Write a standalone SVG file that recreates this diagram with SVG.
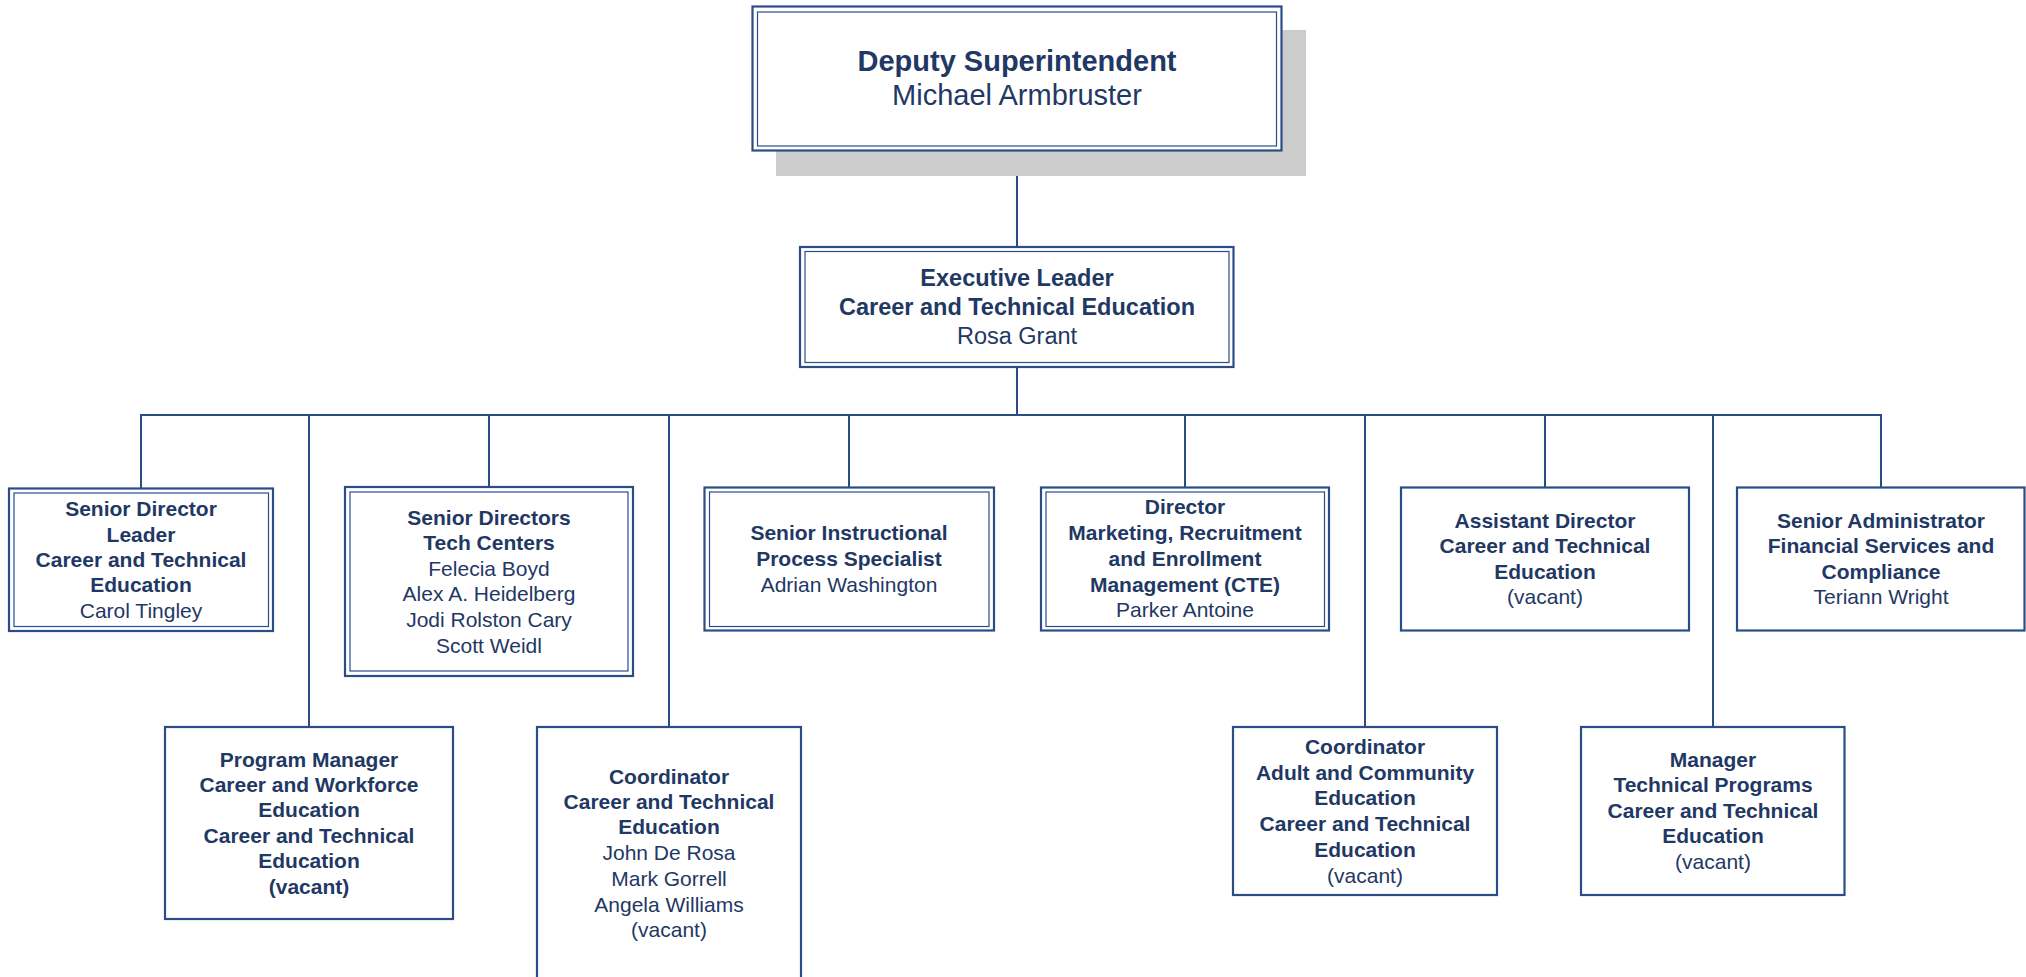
<svg xmlns="http://www.w3.org/2000/svg" width="2026" height="977" viewBox="0 0 2026 977">
<style>
.bg{fill:#ffffff}
.o{fill:#ffffff;stroke:#2b4d86;stroke-width:2.2}
.i{fill:none;stroke:#2b4d86;stroke-width:1.2}
.s{fill:#ffffff;stroke:#2b4d86;stroke-width:2.2}
.c{fill:none;stroke:#2b4d86;stroke-width:2}
text{font-family:"Liberation Sans",Arial,sans-serif;fill:#1f3864;text-anchor:middle;font-size:21px}
.b{font-weight:bold}
.t1{font-size:29px}
.t2{font-size:23.5px}
</style>
<rect class="bg" x="0" y="0" width="2026" height="977"/>
<g id="connectors">
<line class="c" x1="1017" y1="150" x2="1017" y2="247"/>
<line class="c" x1="1017" y1="367" x2="1017" y2="415"/>
<line class="c" x1="140" y1="415" x2="1882" y2="415"/>
<line class="c" x1="141" y1="414" x2="141" y2="489"/>
<line class="c" x1="309" y1="414" x2="309" y2="727"/>
<line class="c" x1="489" y1="414" x2="489" y2="487"/>
<line class="c" x1="669" y1="414" x2="669" y2="727"/>
<line class="c" x1="849" y1="414" x2="849" y2="488"/>
<line class="c" x1="1185" y1="414" x2="1185" y2="488"/>
<line class="c" x1="1365" y1="414" x2="1365" y2="727"/>
<line class="c" x1="1545" y1="414" x2="1545" y2="488"/>
<line class="c" x1="1713" y1="414" x2="1713" y2="727"/>
<line class="c" x1="1881" y1="414" x2="1881" y2="488"/>
</g>
<g id="deputy-superintendent">
<rect x="776" y="30" width="530" height="146" fill="#cccccc"/>
<rect class="o" x="752.5" y="6.5" width="529" height="144"/>
<rect class="i" x="757.5" y="12" width="519" height="134"/>
<text class="b t1" x="1017" y="71">Deputy Superintendent</text>
<text class="t1" x="1017" y="105">Michael Armbruster</text>
</g>
<g id="executive-leader">
<rect class="o" x="800" y="247" width="433.5" height="120"/>
<rect class="i" x="805" y="251.5" width="424" height="111"/>
<text class="b t2" x="1017" y="286">Executive Leader</text>
<text class="b t2" x="1017" y="315">Career and Technical Education</text>
<text class="t2" x="1017" y="343.5">Rosa Grant</text>
</g>
<g id="senior-director-leader">
<rect class="o" x="9" y="488.5" width="264" height="142.5"/>
<rect class="i" x="14" y="493" width="254.5" height="133.5"/>
<text class="b" x="141" y="516">Senior Director</text>
<text class="b" x="141" y="541.7">Leader</text>
<text class="b" x="141" y="566.7">Career and Technical</text>
<text class="b" x="141" y="592.3">Education</text>
<text x="141" y="618">Carol Tingley</text>
</g>
<g id="senior-directors-tech-centers">
<rect class="o" x="345" y="487" width="288" height="189"/>
<rect class="i" x="350" y="492" width="278" height="179"/>
<text class="b" x="489" y="525">Senior Directors</text>
<text class="b" x="489" y="550">Tech Centers</text>
<text x="489" y="575.7">Felecia Boyd</text>
<text x="489" y="601.3">Alex A. Heidelberg</text>
<text x="489" y="627">Jodi Rolston Cary</text>
<text x="489" y="652.7">Scott Weidl</text>
</g>
<g id="senior-instructional-process-specialist">
<rect class="o" x="704.5" y="487.5" width="289.5" height="143"/>
<rect class="i" x="709.5" y="492" width="279.5" height="134.5"/>
<text class="b" x="849" y="540">Senior Instructional</text>
<text class="b" x="849" y="565.7">Process Specialist</text>
<text x="849" y="591.5">Adrian Washington</text>
</g>
<g id="director-marketing">
<rect class="o" x="1041" y="487.5" width="288" height="143"/>
<rect class="i" x="1046" y="492" width="278.5" height="134.5"/>
<text class="b" x="1185" y="514.3">Director</text>
<text class="b" x="1185" y="540">Marketing, Recruitment</text>
<text class="b" x="1185" y="565.7">and Enrollment</text>
<text class="b" x="1185" y="591.5">Management (CTE)</text>
<text x="1185" y="617.3">Parker Antoine</text>
</g>
<g id="assistant-director">
<rect class="s" x="1401" y="487.5" width="288" height="143"/>
<text class="b" x="1545" y="527.7">Assistant Director</text>
<text class="b" x="1545" y="553.3">Career and Technical</text>
<text class="b" x="1545" y="579">Education</text>
<text x="1545" y="604.3">(vacant)</text>
</g>
<g id="senior-administrator">
<rect class="s" x="1737" y="487.5" width="287.5" height="143"/>
<text class="b" x="1881" y="527.7">Senior Administrator</text>
<text class="b" x="1881" y="553.3">Financial Services and</text>
<text class="b" x="1881" y="579">Compliance</text>
<text x="1881" y="604.3">Teriann Wright</text>
</g>
<g id="program-manager">
<rect class="s" x="165" y="727" width="288" height="192"/>
<text class="b" x="309" y="766.7">Program Manager</text>
<text class="b" x="309" y="791.7">Career and Workforce</text>
<text class="b" x="309" y="817.3">Education</text>
<text class="b" x="309" y="842.7">Career and Technical</text>
<text class="b" x="309" y="868.3">Education</text>
<text class="b" x="309" y="894">(vacant)</text>
</g>
<g id="coordinator-cte">
<rect class="s" x="537" y="727" width="264" height="270"/>
<text class="b" x="669" y="784">Coordinator</text>
<text class="b" x="669" y="809.3">Career and Technical</text>
<text class="b" x="669" y="834.3">Education</text>
<text x="669" y="860">John De Rosa</text>
<text x="669" y="886">Mark Gorrell</text>
<text x="669" y="911.7">Angela Williams</text>
<text x="669" y="936.7">(vacant)</text>
</g>
<g id="coordinator-adult">
<rect class="s" x="1233" y="727" width="264" height="168"/>
<text class="b" x="1365" y="754.3">Coordinator</text>
<text class="b" x="1365" y="780">Adult and Community</text>
<text class="b" x="1365" y="805">Education</text>
<text class="b" x="1365" y="831">Career and Technical</text>
<text class="b" x="1365" y="856.7">Education</text>
<text x="1365" y="882.7">(vacant)</text>
</g>
<g id="manager-technical-programs">
<rect class="s" x="1581" y="727" width="263.5" height="168"/>
<text class="b" x="1713" y="766.7">Manager</text>
<text class="b" x="1713" y="792.3">Technical Programs</text>
<text class="b" x="1713" y="818.3">Career and Technical</text>
<text class="b" x="1713" y="843.3">Education</text>
<text x="1713" y="869.3">(vacant)</text>
</g>
</svg>
